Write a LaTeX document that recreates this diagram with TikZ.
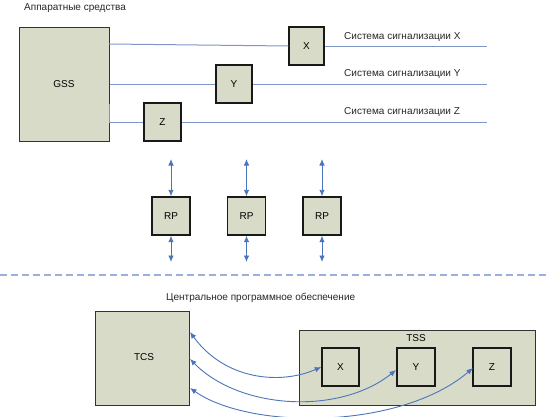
\documentclass[tikz,border=0pt]{standalone}
\usepackage{fontspec}
\setmainfont{Liberation Sans}
\usetikzlibrary{arrows.meta}
\definecolor{boxfill}{HTML}{D9DBC9}
\definecolor{linkblue}{HTML}{7E96C6}
\definecolor{arrblue}{HTML}{4C74BA}
\definecolor{dashblue}{HTML}{9AB0DA}
\begin{document}
\begin{tikzpicture}[x=1pt,y=-1pt,
  every node/.style={font=\fontsize{10pt}{12pt}\selectfont, inner sep=0pt},
  bigbox/.style={draw=black!80, line width=1pt, fill=boxfill},
  smallbox/.style={draw=black!90, line width=1.4pt, fill=boxfill, minimum width=36pt, minimum height=38pt},
  link/.style={draw=linkblue, line width=1pt},
  dbl/.style={draw=arrblue, line width=0.9pt, {Latex[length=6.5pt,width=5.5pt]}-{Latex[length=6.5pt,width=5.5pt]}},
  lbl/.style={anchor=west, text=black!85}
]
\useasboundingbox (0,0) rectangle (550,416);

% Hardware
\node[lbl] (hw) at (24,8) {Аппаратные средства};
\node[bigbox, minimum width=90pt, minimum height=114pt] (gss) at (64,84) {GSS};
\node[smallbox, minimum width=35pt] (x) at (306.5,46) {X};
\node[smallbox] (y) at (234,84) {Y};
\node[smallbox, minimum width=37pt] (z) at (162.5,122) {Z};

\coordinate (xe) at (487,46);
\coordinate (ye) at (487,84);
\coordinate (ze) at (487,122);
\coordinate (gx) at (109,44);
\coordinate (gz) at (109,104);
\coordinate (gzb) at (109,122);

\draw[link] (gx) -- (x.west);
\draw[link] (x.east) -- (xe);
\draw[link] (gss.east) -- (y.west);
\draw[link] (y.east) -- (ye);
\draw[link] (gz) -- (gzb) -- (z.west);
\draw[link] (z.east) -- (ze);

\node[lbl] (lx) at (344,37) {Система сигнализации X};
\node[lbl] (ly) at (344,74.5) {Система сигнализации Y};
\node[lbl] (lz) at (344,112.5) {Система сигнализации Z};

% RP
\node[smallbox, minimum width=38pt] (rp1) at (171,216) {RP};
\node[smallbox, minimum width=38pt] (rp2) at (246.5,216) {RP};
\node[smallbox, minimum width=38pt] (rp3) at (322,216) {RP};
\foreach \i/\xx in {1/171,2/246.5,3/322}{
  \coordinate (t\i) at (\xx,159);
  \coordinate (b\i) at (\xx,262);
  \draw[dbl] (t\i) -- (rp\i.north);
  \draw[dbl] (rp\i.south) -- (b\i);
}

% separator
\coordinate (s1) at (0,275);
\coordinate (s2) at (550,275);
\draw[dashblue, line width=1.3pt, dash pattern=on 7pt off 4pt] (s1) -- (s2);

% Software
\node[lbl] (sw) at (166,297.5) {Центральное программное обеспечение};
\node[bigbox, minimum width=94pt, minimum height=94pt] (tcs) at (142.7,358) {};
\node (tcsl) at (144,357) {TCS};
\node[bigbox, minimum width=236pt, minimum height=75pt] (tss) at (417,367.5) {};
\node (tssl) at (416,338) {TSS};
\node[smallbox, minimum width=37pt] (x2) at (340.5,367) {X};
\node[smallbox, minimum width=38pt] (y2) at (416,367) {Y};
\node[smallbox, minimum width=38pt] (z2) at (492,367) {Z};

\coordinate (c1) at (190,332);
\coordinate (c2) at (190,359);
\coordinate (c3) at (190,388);
\coordinate (e2) at (396,370);
\coordinate (e3) at (473,368);
\draw[dbl] (c1) .. controls (225,380) and (280,385) .. (x2.west);
\draw[dbl] (c2) .. controls (240,410) and (340,415) .. (e2);
\draw[dbl] (c3) .. controls (250,430) and (400,430) .. (e3);
\end{tikzpicture}
\end{document}
